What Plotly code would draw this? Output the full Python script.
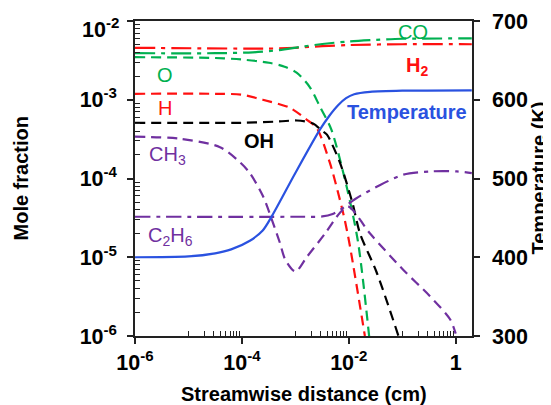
import plotly.graph_objects as go

# ---------------- data ----------------
# streamwise distance (cm) / mole fraction
h2_x = [1e-6, 3.2e-4, 1e-3, 3.2e-3, 1e-2, 0.1, 2.0]
h2_y = [4.57e-3, 4.47e-3, 4.57e-3, 4.8e-3, 4.95e-3, 5.07e-3, 5.07e-3]

co_x = [1e-6, 3.2e-5, 1.6e-4, 5e-4, 1.26e-3, 3.2e-3, 1e-2, 3.2e-2, 0.1, 2.0]
co_y = [3.9e-3, 3.9e-3, 4.0e-3, 4.27e-3, 4.7e-3, 5.1e-3, 5.5e-3, 5.75e-3, 5.95e-3, 6.0e-3]

o_x = [1e-6, 3.2e-5, 1e-4, 3.2e-4, 6.3e-4, 1.07e-3, 1.86e-3, 2.9e-3, 4.7e-3, 9.1e-3, 1.48e-2, 2.4e-2]
o_y = [3.47e-3, 3.39e-3, 3.24e-3, 2.95e-3, 2.63e-3, 2.19e-3, 1.45e-3, 8.1e-4, 4.2e-4, 7.9e-5, 1.6e-5, 1e-6]

h_x = [1e-6, 3.2e-5, 1e-4, 2.45e-4, 7.9e-4, 1.62e-3, 2.5e-3, 4.4e-3, 7.8e-3, 1.0e-2, 2.0e-2]
h_y = [1.19e-3, 1.19e-3, 1.16e-3, 1.0e-3, 7.9e-4, 5.6e-4, 4.4e-4, 1.6e-4, 3.7e-5, 1.66e-5, 1e-6]

oh_x = [1e-6, 1e-4, 5e-4, 1.07e-3, 2.14e-3, 3.2e-3, 3.9e-3, 6.8e-3, 1.17e-2, 1.62e-2, 3.3e-2, 8.5e-2]
oh_y = [5.1e-4, 5.1e-4, 5.3e-4, 5.45e-4, 5.0e-4, 4.0e-4, 3.6e-4, 1.6e-4, 4.9e-5, 2.0e-5, 6.5e-6, 1e-6]

ch3_x = [1e-6, 6.9e-6, 3.9e-5, 9.1e-5, 1.41e-4, 2.5e-4, 3.8e-4, 5.1e-4, 6.5e-4, 1e-3, 1.66e-3,
         3.6e-3, 6.9e-3, 9.8e-3, 2.5e-2, 0.105, 0.33, 0.79, 1.0]
ch3_y = [3.4e-4, 3.2e-4, 2.5e-4, 1.62e-4, 1.17e-4, 5.9e-5, 2.75e-5, 1.55e-5, 9.3e-6, 6.6e-6, 1.02e-5,
         2.0e-5, 3.7e-5, 4.4e-5, 2.0e-5, 6.9e-6, 3.2e-6, 1.62e-6, 1.07e-6]

c2h6_x = [1e-6, 1e-3, 3.2e-3, 5e-3, 6.9e-3, 1.32e-2, 3.4e-2, 0.105, 0.33, 1.05, 2.0]
c2h6_y = [3.27e-5, 3.27e-5, 3.3e-5, 3.55e-5, 4.0e-5, 5.5e-5, 7.9e-5, 1.12e-4, 1.23e-4, 1.23e-4, 1.17e-4]

temp_x = [1e-6, 1e-5, 3.16e-5, 6.3e-5, 1.41e-4, 2.45e-4, 3.55e-4, 1e-3, 2.88e-3,
          4.37e-3, 6.3e-3, 8.9e-3, 1.26e-2, 2.5e-2, 0.1, 2.0]
temp_k = [400, 401, 405, 410, 421, 434, 451, 507, 562, 580, 593, 602, 607, 610, 611.5, 612]

x_tickvals = [1e-6, 1e-4, 1e-2, 1]
x_ticktext = ["10<sup>-6</sup>", "10<sup>-4</sup>", "10<sup>-2</sup>", "1"]
y_tickvals = [1e-6, 1e-5, 1e-4, 1e-3, 1e-2]
y_ticktext = ["10<sup>-6</sup>", "10<sup>-5</sup>", "10<sup>-4</sup>", "10<sup>-3</sup>", ""]
y_top_label = "10<sup>-2</sup>"
t_tickvals = [300, 400, 500, 600, 700]

# ---------------- styles ----------------
RED, GREEN, BLACK, PURPLE, BLUE = "#FF1010", "#00B050", "#000000", "#7030A0", "#2A52E0"
DASH = "10px,6px"
DASHDOT = "20px,6px,4px,6px"
DASHDOT2 = "15px,6px,4px,6px"
FONT = "Liberation Sans, Arial, sans-serif"
LW = 2.2

fig = go.Figure()

def add(x, y, color, dash, yaxis="y"):
    fig.add_trace(go.Scatter(x=x, y=y, mode="lines", yaxis=yaxis, showlegend=False,
                             line=dict(color=color, width=LW, dash=dash, shape="spline", smoothing=0.8),
                             hoverinfo="skip"))

add(h2_x, h2_y, RED, DASHDOT)
add(co_x, co_y, GREEN, DASHDOT)
add(o_x, o_y, GREEN, DASH)
add(h_x, h_y, RED, DASH)
add(oh_x, oh_y, BLACK, DASH)
add(ch3_x, ch3_y, PURPLE, DASH)
add(c2h6_x, c2h6_y, PURPLE, DASHDOT2)
add(temp_x, temp_k, BLUE, "solid", yaxis="y2")

# minor tick positions
x_minor = [m * d for d in (1e-5, 1e-3, 1e-1) for m in range(1, 10)]
y_minor = [m * d for d in (1e-6, 1e-5, 1e-4, 1e-3) for m in range(2, 10)]

TICK_SIZE = 21.5
tickfont = dict(family=FONT, size=TICK_SIZE, color="black", weight="bold")
titlefont = dict(family=FONT, size=20, color="black", weight="bold")
LINE = "#222"

# the page adds an 8px body margin, so the figure is 8px smaller than the window
fig.update_layout(
    width=543, height=397,
    margin=dict(l=127, r=79, t=13, b=69, autoexpand=False),
    plot_bgcolor="white", paper_bgcolor="white",
    xaxis=dict(type="log", range=[-6, 0.305], tickmode="array", tickvals=x_tickvals, ticktext=x_ticktext,
               ticks="outside", ticklen=6, tickwidth=1.5, tickcolor=LINE,
               minor=dict(tickmode="array", tickvals=x_minor, ticks="inside", ticklen=5, tickwidth=1.2,
                          tickcolor=LINE, showgrid=False),
               showline=True, linecolor=LINE, linewidth=1.5, mirror=True, showgrid=False, zeroline=False,
               tickfont=tickfont, ticklabelstandoff=0, automargin=False),
    yaxis=dict(type="log", range=[-6, -2], tickmode="array", tickvals=y_tickvals, ticktext=y_ticktext,
               ticks="outside", ticklen=6, tickwidth=1.5, tickcolor=LINE,
               minor=dict(tickmode="array", tickvals=y_minor, ticks="inside", ticklen=5, tickwidth=1.2,
                          tickcolor=LINE, showgrid=False),
               showline=True, linecolor=LINE, linewidth=1.5, showgrid=False, zeroline=False,
               tickfont=tickfont, ticklabelstandoff=6, automargin=False),
    yaxis2=dict(overlaying="y", side="right", range=[300, 700], tickmode="array", tickvals=t_tickvals,
                ticks="outside", ticklen=6, tickwidth=1.5, tickcolor=LINE,
                showline=True, linecolor=LINE, linewidth=1.5, showgrid=False, zeroline=False,
                tickfont=tickfont, ticklabelstandoff=8, automargin=False),
)

# axis titles (positioned in pixels relative to the plot area)
fig.add_annotation(text="Streamwise distance (cm)", xref="paper", yref="paper", x=0.5, y=0,
                   xanchor="center", yanchor="middle", yshift=-58, showarrow=False, font=titlefont)
fig.add_annotation(text="Mole fraction", xref="paper", yref="paper", x=0, y=0.5, xshift=-115,
                   xanchor="center", yanchor="middle", textangle=-90, showarrow=False, font=titlefont)
fig.add_annotation(text="Temperature (K)", xref="paper", yref="paper", x=1, y=0.5, xshift=66,
                   xanchor="center", yanchor="middle", textangle=-90, showarrow=False, font=titlefont)
# top tick label of the left axis (drawn slightly lower than its tick, as in the reference)
fig.add_annotation(text=y_top_label, xref="paper", yref="paper", x=0, y=1, xanchor="right",
                   yanchor="middle", xshift=-14, yshift=-7, showarrow=False, font=tickfont)

labels = [
    ("CO", -0.794, -2.14, GREEN, "normal"),
    ("H<sub>2</sub>", -0.72, -2.58, RED, "bold"),
    ("O", -5.44, -2.68, GREEN, "normal"),
    ("H", -5.44, -3.10, RED, "normal"),
    ("OH", -3.68, -3.52, BLACK, "bold"),
    ("CH<sub>3</sub>", -5.40, -3.71, PURPLE, "normal"),
    ("C<sub>2</sub>H<sub>6</sub>", -5.34, -4.74, PURPLE, "normal"),
    ("Temperature", -0.91, -3.15, BLUE, "bold"),
]
for text, lx, ly, color, weight in labels:
    fig.add_annotation(x=lx, y=ly, xref="x", yref="y", text=text, showarrow=False,
                       font=dict(family=FONT, size=20, color=color, weight=weight))

fig.write_html("out.html")
